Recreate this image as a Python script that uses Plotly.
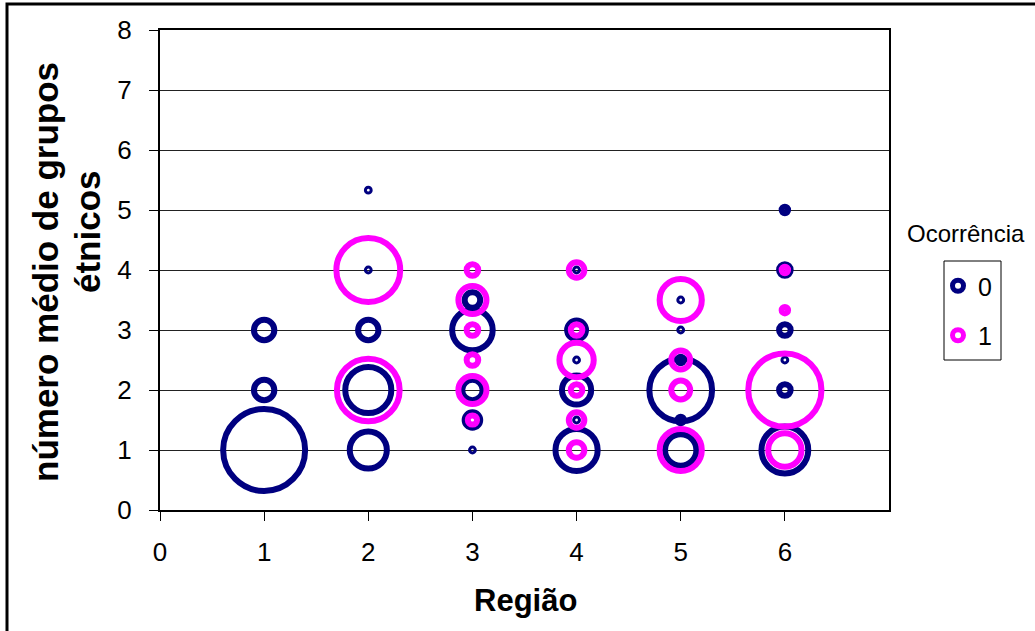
import numpy as np
import plotly.graph_objects as go

# ---- data ----
# Ocorrência = 0 (navy)
regiao_0 = [1, 1, 1, 2, 2, 2, 2, 2, 3, 3, 3, 3, 3, 4, 4, 4, 4, 4, 4, 5, 5, 5, 5, 5, 5, 6, 6, 6, 6, 6, 6]
media_0 = [3, 2, 1, 5.33, 4, 3, 2, 1, 3.5, 3, 2, 1.5, 1, 4, 3, 2.5, 2, 1.5, 1, 3.5, 3, 2.5, 2, 1.5, 1, 5, 4, 3, 2.5, 2, 1]
freq_0 = [9, 9, 100, 1, 1, 9, 35, 24, 6, 28, 9, 6, 1, 1, 8, 1, 16, 1, 30, 1, 1, 2, 61, 2, 18, 2, 4, 4, 1, 4, 36]

# Ocorrência = 1 (magenta)
regiao_1 = [2, 2, 3, 3, 3, 3, 3, 3, 4, 4, 4, 4, 4, 4, 5, 5, 5, 5, 6, 6, 6, 6]
media_1 = [4, 2, 4, 3.5, 3, 2.5, 2, 1.5, 4, 3, 2.5, 2, 1.5, 1, 3.5, 2.5, 2, 1, 4, 3.33, 2, 1]
freq_1 = [63, 61, 4, 15, 4, 4, 15, 3, 6, 4, 21, 4, 6, 6, 30, 8, 8, 30, 2, 2, 81, 20]

x_ticks = [0, 1, 2, 3, 4, 5, 6]
series_names = ["0", "1"]
colors = ["#000080", "#FF00FF"]

FONT = "Liberation Sans, Arial, sans-serif"


def bubble_style(freq):
    outer = 8.8 * np.sqrt(np.asarray(freq, dtype=float))
    lw = np.where(outer < 10, 3.0, 6.0)
    size = np.maximum(outer - lw, 0.5)
    return outer, lw, size


fig = go.Figure()

for xs, ys, fr, col in [(regiao_0, media_0, freq_0, colors[0]),
                        (regiao_1, media_1, freq_1, colors[1])]:
    outer, lw, size = bubble_style(fr)
    order = np.argsort(-outer, kind="stable")
    fig.add_trace(go.Scatter(
        x=np.asarray(xs)[order], y=np.asarray(ys)[order], mode="markers",
        marker=dict(size=size[order], color="rgba(0,0,0,0)", opacity=1,
                    line=dict(color=col, width=lw[order])),
        showlegend=False, hoverinfo="x+y", cliponaxis=False,
    ))

# legend entries
for name, col in zip(series_names, colors):
    fig.add_trace(go.Scatter(
        x=[None], y=[None], mode="markers", name=name, legendgroup=name,
        marker=dict(size=11, color="rgba(0,0,0,0)", opacity=1, line=dict(color=col, width=5)),
    ))

W, H = 1035, 631
PL, PR, PT, PB = 160, 889, 30, 510          # plot area in window pixels
L, T = PL, PT
R = W - PR
B = H - PB
pw, ph = PR - PL, PB - PT


def px(x):
    return (x - PL) / pw


def py(y):
    return (PB - y) / ph


fig.update_layout(
    width=W, height=H,
    margin=dict(l=L, r=R, t=T, b=B, autoexpand=False),
    paper_bgcolor="white", plot_bgcolor="white",
    font=dict(family=FONT, color="black"),
    xaxis=dict(range=[0, 7], tickvals=x_ticks, ticks="outside", ticklen=9, tickcolor="black",
               showline=True, mirror=True, linecolor="black", linewidth=2,
               showgrid=False, zeroline=False, tickfont=dict(size=26, family=FONT),
               ticklabelstandoff=9),
    yaxis=dict(range=[0, 8], dtick=1, ticks="outside", ticklen=9, tickcolor="black",
               showline=True, mirror=True, linecolor="black", linewidth=2,
               showgrid=True, gridcolor="#222222", gridwidth=1, zeroline=False,
               tickfont=dict(size=26, family=FONT), ticklabelstandoff=12),
    legend=dict(x=px(938), y=py(263), xanchor="left", yanchor="top",
                borderwidth=0, bgcolor="rgba(0,0,0,0)",
                font=dict(size=25, family=FONT), tracegroupgap=14,
                traceorder="grouped", itemwidth=30),
    annotations=[
        dict(text="<b>número médio de grupos</b>", textangle=-90, x=px(45), y=py(272),
             xref="paper", yref="paper", showarrow=False, font=dict(size=35, family=FONT),
             xanchor="center", yanchor="middle"),
        dict(text="<b>étnicos</b>", textangle=-90, x=px(88), y=py(232),
             xref="paper", yref="paper", showarrow=False, font=dict(size=35, family=FONT),
             xanchor="center", yanchor="middle"),
        dict(text="<b>Região</b>", x=px(525), y=py(600), xref="paper", yref="paper",
             showarrow=False, font=dict(size=31, family=FONT), xanchor="center", yanchor="middle"),
        dict(text="Ocorrência", x=px(966), y=py(233), xref="paper", yref="paper",
             showarrow=False, font=dict(size=24, family=FONT), xanchor="center", yanchor="middle"),
    ],
    shapes=[
        # outer chart frame
        dict(type="rect", xref="paper", yref="paper", x0=px(7), x1=px(1060), y0=py(660), y1=py(4),
             line=dict(color="black", width=3), fillcolor="rgba(0,0,0,0)", layer="above"),
        # legend box
        dict(type="rect", xref="paper", yref="paper", x0=px(944), x1=px(1001), y0=py(360), y1=py(261),
             line=dict(color="black", width=1), fillcolor="rgba(0,0,0,0)", layer="above"),
    ],
)

fig.write_html("out.html", config={"displayModeBar": False},
               post_script="document.body.style.margin='0';")
